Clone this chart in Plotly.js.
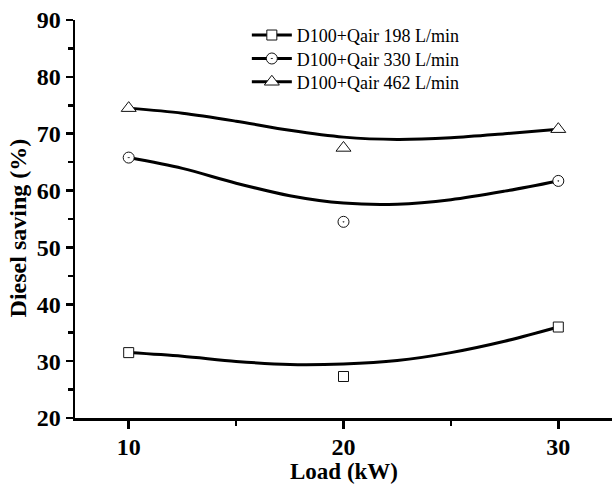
<!DOCTYPE html>
<html>
<head>
<meta charset="utf-8">
<script src="https://cdn.plot.ly/plotly-3.0.1.min.js"></script>
<style>html,body{margin:0;padding:0;background:#fff}</style>
</head>
<body>
<div id="chart" style="width:612px;height:488px"></div>
<script>
// Measured diesel saving at each engine load
const load = [10, 20, 30];
const saving198 = [31.5, 27.3, 36.0];
const saving330 = [65.8, 54.5, 61.7];
const saving462 = [74.5, 67.5, 70.8];

// Smoothed trend curves, sampled along the load axis
const trendLoad = [10, 12.5, 15, 17.5, 20, 22.5, 25, 27.5, 30];
const trend198 = [31.5, 30.85, 29.95, 29.4, 29.5, 30.1, 31.5, 33.5, 36.0];
const trend330 = [65.8, 63.9, 61.3, 59.1, 57.8, 57.6, 58.4, 59.9, 61.7];
const trend462 = [74.5, 73.6, 72.2, 70.6, 69.4, 69.0, 69.3, 70.0, 70.8];

const seriesNames = ['D100+Qair 198 L/min', 'D100+Qair 330 L/min', 'D100+Qair 462 L/min'];
const symbols = ['square', 'circle-dot', 'triangle-up'];
const symbolSizes = [10, 11, 13];
const legendIds = ['legend', 'legend2', 'legend3'];

const serif = 'Liberation Serif, Times New Roman, serif';
const measured = [saving198, saving330, saving462];
const trends = [trend198, trend330, trend462];

const traces = [];
// trend lines underneath
trends.forEach((t) => {
  traces.push({
    x: trendLoad, y: t, mode: 'lines', showlegend: false, hoverinfo: 'skip',
    line: {color: '#000', width: 3, shape: 'spline', smoothing: 0.9}
  });
});
// measured points on top
measured.forEach((m, i) => {
  traces.push({
    x: load, y: m, mode: 'markers', showlegend: false,
    marker: {symbol: symbols[i], size: symbolSizes[i], color: '#fff',
             line: {color: '#111', width: 1}}
  });
});
// legend entries (line with marker), one row per legend box
seriesNames.forEach((n, i) => {
  traces.push({
    x: [null], y: [null], mode: 'lines+markers', name: n, legend: legendIds[i],
    line: {color: '#000', width: 3},
    marker: {symbol: symbols[i], size: symbolSizes[i], color: '#fff',
             line: {color: '#111', width: 1}}
  });
});

function legendBox(y) {
  return {
    x: 0.32, y: y, xanchor: 'left', yanchor: 'top',
    bgcolor: 'rgba(0,0,0,0)', borderwidth: 0,
    font: {family: serif, size: 18, color: '#000'},
    itemwidth: 40
  };
}

const layout = {
  width: 612, height: 488,
  margin: {l: 75, r: 0, t: 20, b: 70},
  paper_bgcolor: '#fff', plot_bgcolor: '#fff',
  font: {family: serif, color: '#000'},
  showlegend: true,
  legend: legendBox(1.008),
  legend2: legendBox(0.949),
  legend3: legendBox(0.8905),
  xaxis: {
    range: [7.5, 32.5], tickvals: [10, 20, 30],
    showline: true, linecolor: '#000', linewidth: 2.5,
    ticks: 'outside', ticklen: 8, tickwidth: 2.5, tickcolor: '#000',
    minor: {dtick: 5, tick0: 0, ticks: 'outside', ticklen: 5, tickwidth: 2.5, tickcolor: '#000'},
    showgrid: false, zeroline: false,
    tickfont: {family: serif, size: 24, color: '#000', weight: 'bold'},
    ticklabelstandoff: -2,
    automargin: false
  },
  yaxis: {
    range: [20, 90], dtick: 10, tick0: 0,
    showline: true, linecolor: '#000', linewidth: 2.5,
    ticks: 'outside', ticklen: 7, tickwidth: 2.5, tickcolor: '#000',
    minor: {dtick: 5, tick0: 0, ticks: 'outside', ticklen: 5, tickwidth: 2.5, tickcolor: '#000'},
    showgrid: false, zeroline: false,
    tickfont: {family: serif, size: 24, color: '#000', weight: 'bold'},
    automargin: false
  },
  annotations: [{
    text: '<b>Diesel saving (%)</b>', textangle: -90,
    xref: 'paper', yref: 'paper', x: -0.106, y: 0.4765,
    xanchor: 'center', yanchor: 'middle', showarrow: false,
    font: {family: serif, size: 24, color: '#000'}
  }, {
    text: '<b>Load (kW)</b>',
    xref: 'paper', yref: 'paper', x: 0.501, y: -0.134,
    xanchor: 'center', yanchor: 'middle', showarrow: false,
    font: {family: serif, size: 23, color: '#000'}
  }]
};

Plotly.newPlot('chart', traces, layout, {displayModeBar: false, staticPlot: true});
</script>
</body>
</html>
